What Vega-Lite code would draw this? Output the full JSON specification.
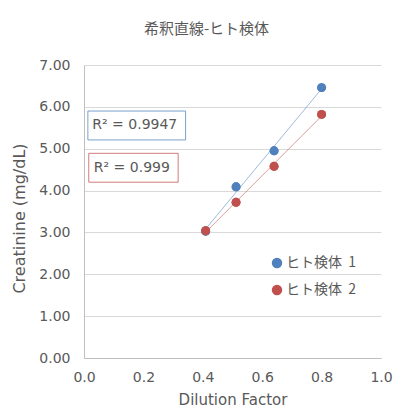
{
  "$schema": "https://vega.github.io/schema/vega-lite/v6.json",
  "width": 297,
  "height": 293,
  "autosize": {"type": "none"},
  "padding": {"left": 84, "top": 65, "right": 31, "bottom": 56},
  "background": "white",
  "title": {
    "text": "希釈直線-ヒト検体",
    "font": "Noto Sans CJK JP",
    "fontSize": 15,
    "fontWeight": "normal",
    "color": "#595959",
    "anchor": "middle",
    "dx": -26,
    "offset": 21
  },
  "config": {
    "view": {"stroke": null},
    "font": "DejaVu Sans",
    "axis": {
      "labelColor": "#595959",
      "titleColor": "#595959",
      "labelFont": "DejaVu Sans",
      "titleFont": "DejaVu Sans",
      "labelFontSize": 14,
      "titleFontSize": 15,
      "titleFontWeight": "normal",
      "gridColor": "#d9d9d9",
      "domainColor": "#bfbfbf",
      "ticks": false,
      "labelFlush": false
    }
  },
  "datasets": {
    "pts": [
      {"series": "ヒト検体\u00a0\u00a01", "x": 0.4096, "y": 3.03},
      {"series": "ヒト検体\u00a0\u00a01", "x": 0.512, "y": 4.09},
      {"series": "ヒト検体\u00a0\u00a01", "x": 0.64, "y": 4.95},
      {"series": "ヒト検体\u00a0\u00a01", "x": 0.8, "y": 6.46},
      {"series": "ヒト検体\u00a0\u00a02", "x": 0.4096, "y": 3.04},
      {"series": "ヒト検体\u00a0\u00a02", "x": 0.512, "y": 3.72},
      {"series": "ヒト検体\u00a0\u00a02", "x": 0.64, "y": 4.58},
      {"series": "ヒト検体\u00a0\u00a02", "x": 0.8, "y": 5.82}
    ],
    "notes": [
      {"series": "ヒト検体\u00a0\u00a01", "label": "R² = 0.9947", "x": 0.013, "x2": 0.342, "y": 5.90, "y2": 5.21, "ty": 5.56, "tx": 0.028},
      {"series": "ヒト検体\u00a0\u00a02", "label": "R² = 0.999", "x": 0.016, "x2": 0.317, "y": 4.89, "y2": 4.20, "ty": 4.54, "tx": 0.033}
    ]
  },
  "layer": [
    {
      "data": {"name": "pts"},
      "mark": {"type": "point", "filled": true, "opacity": 1, "size": 80},
      "encoding": {
        "x": {
          "field": "x", "type": "quantitative",
          "scale": {"domain": [0, 1], "nice": false},
          "axis": {"values": [0, 0.2, 0.4, 0.6, 0.8, 1], "format": ".1f", "grid": false, "labelPadding": 12, "title": "Dilution Factor", "titlePadding": 8}
        },
        "y": {
          "field": "y", "type": "quantitative",
          "scale": {"domain": [0, 7], "nice": false},
          "axis": {"values": [0, 1, 2, 3, 4, 5, 6, 7], "format": ".2f", "labelPadding": 14, "title": "Creatinine (mg/dL)", "titleFontSize": 16, "titlePadding": 11, "titleY": 153}
        },
        "color": {
          "field": "series", "type": "nominal",
          "scale": {"range": ["#4F81BD", "#C0504D"]},
          "legend": {
            "title": null,
            "orient": "none",
            "legendX": 186,
            "legendY": 191,
            "symbolType": "circle",
            "symbolSize": 80,
            "labelFont": "Noto Sans CJK JP",
            "labelFontSize": 14,
            "labelColor": "#595959",
            "rowPadding": 11,
            "labelOffset": 2
          }
        }
      }
    },
    {
      "data": {"name": "pts"},
      "transform": [{"regression": "y", "on": "x", "groupby": ["series"]}],
      "mark": {"type": "line", "strokeWidth": 1, "opacity": 0.55},
      "encoding": {
        "x": {"field": "x", "type": "quantitative"},
        "y": {"field": "y", "type": "quantitative"},
        "color": {"field": "series", "type": "nominal", "legend": null}
      }
    },
    {
      "data": {"name": "pts"},
      "mark": {"type": "point", "filled": true, "opacity": 1, "size": 80},
      "encoding": {
        "x": {"field": "x", "type": "quantitative"},
        "y": {"field": "y", "type": "quantitative"},
        "color": {"field": "series", "type": "nominal", "legend": null}
      }
    },
    {
      "data": {"name": "notes"},
      "mark": {"type": "rect", "fill": "white", "strokeWidth": 1, "strokeOpacity": 0.75},
      "encoding": {
        "x": {"field": "x", "type": "quantitative"},
        "x2": {"field": "x2"},
        "y": {"field": "y", "type": "quantitative"},
        "y2": {"field": "y2"},
        "stroke": {"field": "series", "type": "nominal", "scale": {"range": ["#4F81BD", "#C0504D"]}, "legend": null}
      }
    },
    {
      "data": {"name": "notes"},
      "mark": {"type": "text", "align": "left", "baseline": "middle", "fontSize": 14, "color": "#595959", "font": "DejaVu Sans"},
      "encoding": {
        "x": {"field": "tx", "type": "quantitative"},
        "y": {"field": "ty", "type": "quantitative"},
        "text": {"field": "label"}
      }
    }
  ]
}
